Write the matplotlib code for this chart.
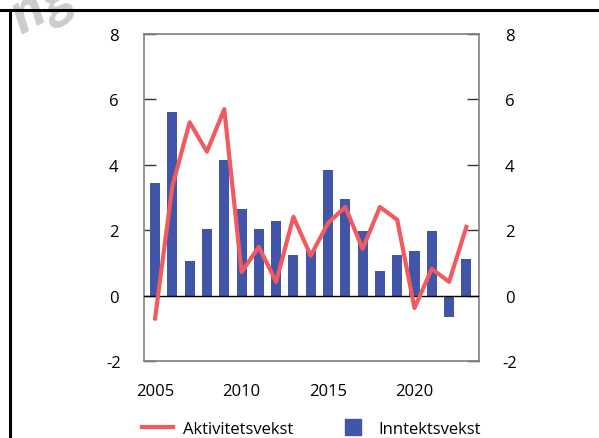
import matplotlib

matplotlib.use("Agg")
import matplotlib.pyplot as plt
from matplotlib.lines import Line2D

plt.rcParams["font.family"] = ["Open Sans", "DejaVu Sans"]
plt.rcParams["axes.unicode_minus"] = False

years = list(range(2005, 2024))
inntekt = [3.45, 5.62, 1.06, 2.04, 4.15, 2.65, 2.04, 2.28, 1.24, 1.35,
           3.84, 2.96, 1.98, 0.76, 1.24, 1.37, 1.98, -0.64, 1.12]
aktivitet = [-0.7, 3.35, 5.3, 4.4, 5.7, 0.72, 1.49, 0.42, 2.41, 1.22,
             2.22, 2.71, 1.43, 2.71, 2.32, -0.38, 0.82, 0.42, 2.1]
yticks = [-2, 0, 2, 4, 6, 8]
xticks = [2005, 2010, 2015, 2020]

BAR = "#4156a8"
LINE = "#f15a5f"

fig = plt.figure(figsize=(5.99, 4.39), dpi=100)
ax = fig.add_axes([144 / 599, 1 - 362 / 439, (479 - 144) / 599, (362 - 35) / 439])

ax.bar(years, inntekt, width=0.58, color=BAR, zorder=2)
ax.axhline(0, color="black", lw=1, zorder=3)
ax.plot(years, aktivitet, color=LINE, lw=3, zorder=4)

ax.set_xlim(2004.36, 2023.73)
ax.set_ylim(-2, 8)
ax.set_yticks(yticks)
ax.set_xticks(xticks)
ax.tick_params(axis="y", direction="in", length=8.6, width=1, color="#333333",
               labelsize=12, pad=22, left=True, right=True, labelright=True)
ax.tick_params(axis="x", length=0, labelsize=12, pad=16)
for sp in ax.spines.values():
    sp.set_color("#808080")
    sp.set_linewidth(1.2)
for lab in ax.get_yticklabels():
    lab.set_ha("center")

handles = [Line2D([], [], color=LINE, lw=3),
           Line2D([], [], ls="none", marker="s", markersize=11.5,
                  color=BAR, markeredgecolor=BAR)]
fig.legend(handles, ["Aktivitetsvekst", "Inntektsvekst"], loc="center",
           bbox_to_anchor=(0.52, 1 - 430 / 439), ncol=2, frameon=False,
           fontsize=12, handlelength=1.9, handletextpad=0.6, columnspacing=2.6)

# frame lines and faint watermark
fig.add_artist(Line2D([0, 1], [1 - 11 / 439, 1 - 11 / 439], color="black", lw=2.2))
fig.add_artist(Line2D([9.5 / 599, 9.5 / 599], [0, 1 - 11 / 439], color="black", lw=2.2))
fig.text(0.07, 0.985, "ng", color="#cccccc", fontsize=40, fontweight="bold",
         fontstyle="italic", rotation=30, ha="center", va="center", zorder=-1)

fig.savefig("out.png", dpi=100)
